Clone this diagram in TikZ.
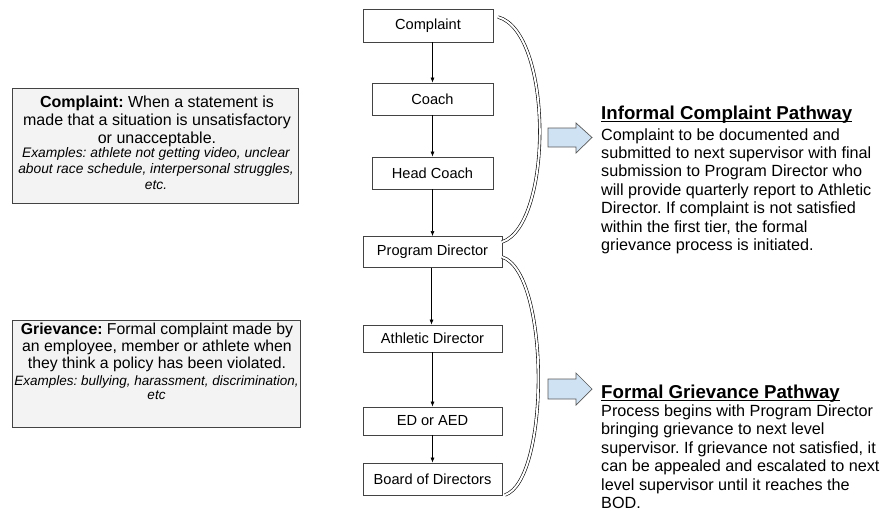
\documentclass[tikz,border=0pt]{standalone}
\usepackage{fontspec}
\setmainfont{Liberation Sans}
\usetikzlibrary{arrows.meta}
\definecolor{boxline}{HTML}{434343}
\definecolor{boxfill}{HTML}{F3F3F3}
\definecolor{arrfill}{HTML}{CFE2F3}
\definecolor{arrline}{HTML}{595959}
\frenchspacing
\begin{document}
\begin{tikzpicture}[x=1pt,y=-1pt,
  flow/.style={draw=boxline,line width=0.8pt,fill=white,inner sep=0pt,
    font=\fontsize{14.6}{17}\selectfont},
  defbox/.style={draw=boxline,line width=1.1pt,fill=boxfill,inner sep=0pt,
    anchor=north west},
  flowarrow/.style={-{Latex[length=5pt,width=4pt]},line width=0.6pt,black},
  bracket/.style={draw=black,line width=0.6pt,double=white,double distance=2pt},
  blockarrow/.style={draw=arrline,line width=0.7pt,fill=arrfill},
  basetext/.style={anchor=base,inner sep=0pt},
  titletext/.style={anchor=base west,inner sep=0pt,font=\fontsize{18.67}{22}\selectfont\bfseries}
]
\useasboundingbox (0,0) rectangle (881,511);
% flow boxes
\node[flow,minimum width=130pt,minimum height=33pt] (c1) at (428,25.5) {Complaint};
\node[flow,minimum width=121pt,minimum height=32pt] (c2) at (432.5,99) {Coach};
\node[flow,minimum width=121pt,minimum height=32pt] (c3) at (432.5,173) {Head Coach};
\node[flow,minimum width=139pt,minimum height=31pt] (c4) at (432.5,252) {Program Director};
\node[flow,minimum width=139pt,minimum height=27pt] (c5) at (432.5,338.5) {Athletic Director};
\node[flow,minimum width=139pt,minimum height=28pt] (c6) at (432.5,421) {ED or AED};
\node[flow,minimum width=139pt,minimum height=32pt] (c7) at (432.5,479) {Board of Directors};
% arrows
\draw[flowarrow] (c2.north |- c1.south) -- (c2.north);
\draw[flowarrow] (c2.south) -- (c3.north);
\draw[flowarrow] (c3.south) -- (c4.north);
\draw[flowarrow] ([xshift=-1pt]c4.south) -- ([xshift=-1pt]c5.north);
\draw[flowarrow] (c5.south) -- (c6.north);
\draw[flowarrow] (c6.south) -- (c7.north);
% brackets
\coordinate (b1s) at (498,17);
\coordinate (b1e) at (502,242);
\coordinate (b2s) at (502,257);
\coordinate (b2e) at (505,495);
\draw[bracket] (b1s) .. controls (553,32) and (553,225) .. (b1e);
\draw[bracket] (b2s) .. controls (550,272) and (550,480) .. (b2e);
% block arrows
\draw[blockarrow] (548,128) -- (576,128) -- (576,123) -- (592,137.5) -- (576,153) -- (576,147) -- (548,147) -- cycle;
\draw[blockarrow] (548,379) -- (576,379) -- (576,373) -- (592,389) -- (576,405) -- (576,399) -- (548,399) -- cycle;
% definition boxes
\node[defbox,minimum width=286pt,minimum height=115pt] (d1) at (12,88) {};
\node[basetext] (d1t) at (157,107) {\parbox[t]{300pt}{\centering
  \fontsize{16}{18.4}\selectfont\textbf{Complaint:} When a statement is\\
  made that a situation is unsatisfactory\\
  or unacceptable.}};
\node[basetext] (d1x) at (156,157.5) {\parbox[t]{300pt}{\centering
  \fontsize{13.8}{16}\selectfont\itshape Examples: athlete not getting video, unclear\\
  about race schedule, interpersonal struggles,\\
  etc.}};
\node[defbox,minimum width=288pt,minimum height=107pt] (d2) at (12,320) {};
\node[basetext] (d2t) at (157,334.5) {\parbox[t]{300pt}{\centering
  \fontsize{15.8}{17}\selectfont\textbf{Grievance:} Formal complaint made by\\
  an employee, member or athlete when\\
  they think a policy has been violated.}};
\node[basetext] (d2x) at (156.5,385) {\parbox[t]{300pt}{\centering
  \fontsize{13.5}{14.5}\selectfont\itshape Examples: bullying, harassment, discrimination,\\
  etc}};
% pathway texts
\node[titletext] (t1) at (601,119.5) {Informal Complaint Pathway};
\draw[line width=1.2pt] ([yshift=-2.2pt]t1.base west) -- ([yshift=-2.2pt]t1.base east);
\node[anchor=base west,inner sep=0pt] (p1) at (601,140) {\parbox[t]{285pt}{\raggedright
\fontsize{16.2}{18.4}\selectfont Complaint to be documented and\\
submitted to next supervisor with final\\
submission to Program Director who\\
will provide quarterly report to Athletic\\
Director. If complaint is not satisfied\\
within the first tier, the formal\\
grievance process is initiated.}};
\node[titletext] (t2) at (601,398) {Formal Grievance Pathway};
\draw[line width=1.2pt] ([yshift=-2.2pt]t2.base west) -- ([yshift=-2.2pt]t2.base east);
\node[anchor=base west,inner sep=0pt] (p2) at (601,416.5) {\parbox[t]{285pt}{\raggedright
\fontsize{16.2}{18.4}\selectfont Process begins with Program Director\\
bringing grievance to next level\\
supervisor. If grievance not satisfied, it\\
can be appealed and escalated to next\\
level supervisor until it reaches the\\
BOD.}};
\end{tikzpicture}
\end{document}
